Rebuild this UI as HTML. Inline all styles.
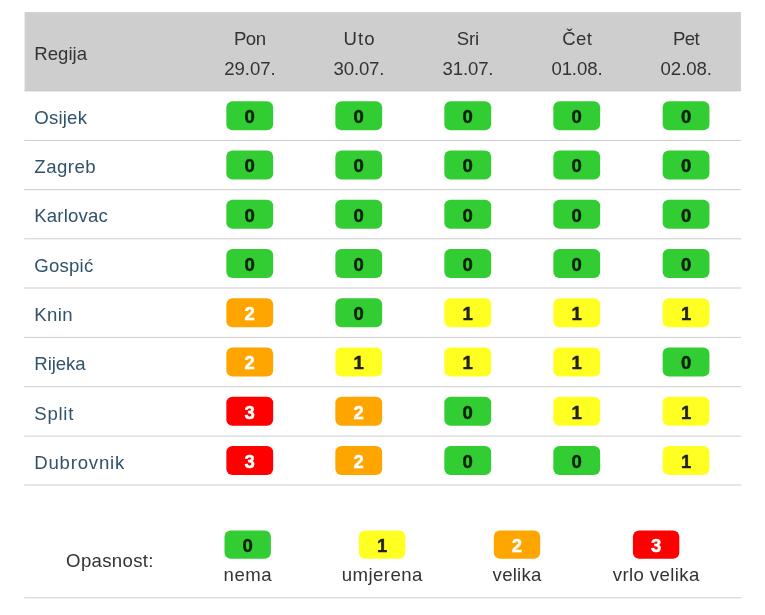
<!DOCTYPE html>
<html lang="hr"><head><meta charset="utf-8"><title>Opasnost</title>
<style>
html,body{margin:0;padding:0;background:#fff;}
body{position:relative;width:765px;height:615px;overflow:hidden;font-family:"Liberation Sans",sans-serif;}
svg{position:absolute;left:0;top:0;}
.t{position:absolute;white-space:nowrap;line-height:24px;height:24px;font-size:18.6px;}
.h{color:#333;}
.r{color:#30526a;}
.g{color:#333;}
.d{font-weight:bold;font-size:18.5px;-webkit-text-stroke:0.45px currentColor;}
.d0{color:#0a1f0a;}
.d1{color:#222;}
.d2,.d3{color:#fff;}
</style></head><body>
<svg width="765" height="615" viewBox="0 0 765 615">
<rect x="24.6" y="12.1" width="716.3" height="79.1" fill="#cecece"/>
<rect x="24.6" y="90.0" width="716.3" height="1.2" fill="#c9c9c9"/>
<rect x="226.35" y="101.15" width="46.8" height="29.2" rx="6.2" fill="#32cd32"/>
<rect x="335.35" y="101.15" width="46.8" height="29.2" rx="6.2" fill="#32cd32"/>
<rect x="444.35" y="101.15" width="46.8" height="29.2" rx="6.2" fill="#32cd32"/>
<rect x="553.35" y="101.15" width="46.8" height="29.2" rx="6.2" fill="#32cd32"/>
<rect x="662.65" y="101.15" width="46.8" height="29.2" rx="6.2" fill="#32cd32"/>
<rect x="24.2" y="139.90" width="716.9" height="1.0" fill="#cdcdcd"/>
<rect x="226.35" y="150.40" width="46.8" height="29.2" rx="6.2" fill="#32cd32"/>
<rect x="335.35" y="150.40" width="46.8" height="29.2" rx="6.2" fill="#32cd32"/>
<rect x="444.35" y="150.40" width="46.8" height="29.2" rx="6.2" fill="#32cd32"/>
<rect x="553.35" y="150.40" width="46.8" height="29.2" rx="6.2" fill="#32cd32"/>
<rect x="662.65" y="150.40" width="46.8" height="29.2" rx="6.2" fill="#32cd32"/>
<rect x="24.2" y="189.10" width="716.9" height="1.0" fill="#cdcdcd"/>
<rect x="226.35" y="199.65" width="46.8" height="29.2" rx="6.2" fill="#32cd32"/>
<rect x="335.35" y="199.65" width="46.8" height="29.2" rx="6.2" fill="#32cd32"/>
<rect x="444.35" y="199.65" width="46.8" height="29.2" rx="6.2" fill="#32cd32"/>
<rect x="553.35" y="199.65" width="46.8" height="29.2" rx="6.2" fill="#32cd32"/>
<rect x="662.65" y="199.65" width="46.8" height="29.2" rx="6.2" fill="#32cd32"/>
<rect x="24.2" y="238.30" width="716.9" height="1.0" fill="#cdcdcd"/>
<rect x="226.35" y="248.90" width="46.8" height="29.2" rx="6.2" fill="#32cd32"/>
<rect x="335.35" y="248.90" width="46.8" height="29.2" rx="6.2" fill="#32cd32"/>
<rect x="444.35" y="248.90" width="46.8" height="29.2" rx="6.2" fill="#32cd32"/>
<rect x="553.35" y="248.90" width="46.8" height="29.2" rx="6.2" fill="#32cd32"/>
<rect x="662.65" y="248.90" width="46.8" height="29.2" rx="6.2" fill="#32cd32"/>
<rect x="24.2" y="287.50" width="716.9" height="1.0" fill="#cdcdcd"/>
<rect x="226.35" y="298.15" width="46.8" height="29.2" rx="6.2" fill="#ffa500"/>
<rect x="335.35" y="298.15" width="46.8" height="29.2" rx="6.2" fill="#32cd32"/>
<rect x="444.35" y="298.15" width="46.8" height="29.2" rx="6.2" fill="#ffff22"/>
<rect x="553.35" y="298.15" width="46.8" height="29.2" rx="6.2" fill="#ffff22"/>
<rect x="662.65" y="298.15" width="46.8" height="29.2" rx="6.2" fill="#ffff22"/>
<rect x="24.2" y="336.90" width="716.9" height="1.0" fill="#cdcdcd"/>
<rect x="226.35" y="347.40" width="46.8" height="29.2" rx="6.2" fill="#ffa500"/>
<rect x="335.35" y="347.40" width="46.8" height="29.2" rx="6.2" fill="#ffff22"/>
<rect x="444.35" y="347.40" width="46.8" height="29.2" rx="6.2" fill="#ffff22"/>
<rect x="553.35" y="347.40" width="46.8" height="29.2" rx="6.2" fill="#ffff22"/>
<rect x="662.65" y="347.40" width="46.8" height="29.2" rx="6.2" fill="#32cd32"/>
<rect x="24.2" y="386.20" width="716.9" height="1.0" fill="#cdcdcd"/>
<rect x="226.35" y="396.65" width="46.8" height="29.2" rx="6.2" fill="#ff0000"/>
<rect x="335.35" y="396.65" width="46.8" height="29.2" rx="6.2" fill="#ffa500"/>
<rect x="444.35" y="396.65" width="46.8" height="29.2" rx="6.2" fill="#32cd32"/>
<rect x="553.35" y="396.65" width="46.8" height="29.2" rx="6.2" fill="#ffff22"/>
<rect x="662.65" y="396.65" width="46.8" height="29.2" rx="6.2" fill="#ffff22"/>
<rect x="24.2" y="435.60" width="716.9" height="1.0" fill="#cdcdcd"/>
<rect x="226.35" y="445.90" width="46.8" height="29.2" rx="6.2" fill="#ff0000"/>
<rect x="335.35" y="445.90" width="46.8" height="29.2" rx="6.2" fill="#ffa500"/>
<rect x="444.35" y="445.90" width="46.8" height="29.2" rx="6.2" fill="#32cd32"/>
<rect x="553.35" y="445.90" width="46.8" height="29.2" rx="6.2" fill="#32cd32"/>
<rect x="662.65" y="445.90" width="46.8" height="29.2" rx="6.2" fill="#ffff22"/>
<rect x="24.2" y="484.50" width="716.9" height="1.0" fill="#cdcdcd"/>
<rect x="224.50" y="530.50" width="46.4" height="28.2" rx="6.2" fill="#32cd32"/>
<rect x="358.90" y="530.50" width="46.4" height="28.2" rx="6.2" fill="#ffff22"/>
<rect x="493.80" y="530.50" width="46.4" height="28.2" rx="6.2" fill="#ffa500"/>
<rect x="632.90" y="530.50" width="46.4" height="28.2" rx="6.2" fill="#ff0000"/>
<rect x="24.2" y="597.30" width="716.9" height="1.0" fill="#cdcdcd"/>
</svg>
<span class="t h" style="left:34.30px;top:41.56px;letter-spacing:0.015px;">Regija</span>
<span class="t h" style="left:233.90px;top:26.56px;letter-spacing:-0.454px;">Pon</span>
<span class="t h" style="left:224.30px;top:56.56px;letter-spacing:-0.062px;">29.07.</span>
<span class="t h" style="left:343.54px;top:26.56px;letter-spacing:1.000px;">Uto</span>
<span class="t h" style="left:333.60px;top:56.56px;letter-spacing:-0.182px;">30.07.</span>
<span class="t h" style="left:456.80px;top:26.56px;letter-spacing:-0.146px;">Sri</span>
<span class="t h" style="left:442.45px;top:56.56px;letter-spacing:-0.122px;">31.07.</span>
<span class="t h" style="left:562.20px;top:26.56px;letter-spacing:0.338px;">Čet</span>
<span class="t h" style="left:551.40px;top:56.56px;letter-spacing:-0.102px;">01.08.</span>
<span class="t h" style="left:672.95px;top:26.56px;letter-spacing:-0.600px;">Pet</span>
<span class="t h" style="left:660.60px;top:56.56px;letter-spacing:-0.062px;">02.08.</span>
<span class="t r" style="left:34.30px;top:105.56px;letter-spacing:0.200px;">Osijek</span>
<span class="t d d0" style="left:244.62px;top:104.59px;">0</span>
<span class="t d d0" style="left:353.62px;top:104.59px;">0</span>
<span class="t d d0" style="left:462.62px;top:104.59px;">0</span>
<span class="t d d0" style="left:571.62px;top:104.59px;">0</span>
<span class="t d d0" style="left:680.92px;top:104.59px;">0</span>
<span class="t r" style="left:34.30px;top:154.56px;letter-spacing:0.488px;">Zagreb</span>
<span class="t d d0" style="left:244.62px;top:153.59px;">0</span>
<span class="t d d0" style="left:353.62px;top:153.59px;">0</span>
<span class="t d d0" style="left:462.62px;top:153.59px;">0</span>
<span class="t d d0" style="left:571.62px;top:153.59px;">0</span>
<span class="t d d0" style="left:680.92px;top:153.59px;">0</span>
<span class="t r" style="left:34.30px;top:203.56px;letter-spacing:0.149px;">Karlovac</span>
<span class="t d d0" style="left:244.62px;top:203.59px;">0</span>
<span class="t d d0" style="left:353.62px;top:203.59px;">0</span>
<span class="t d d0" style="left:462.62px;top:203.59px;">0</span>
<span class="t d d0" style="left:571.62px;top:203.59px;">0</span>
<span class="t d d0" style="left:680.92px;top:203.59px;">0</span>
<span class="t r" style="left:34.30px;top:253.56px;letter-spacing:0.211px;">Gospić</span>
<span class="t d d0" style="left:244.62px;top:252.59px;">0</span>
<span class="t d d0" style="left:353.62px;top:252.59px;">0</span>
<span class="t d d0" style="left:462.62px;top:252.59px;">0</span>
<span class="t d d0" style="left:571.62px;top:252.59px;">0</span>
<span class="t d d0" style="left:680.92px;top:252.59px;">0</span>
<span class="t r" style="left:34.30px;top:302.56px;letter-spacing:0.400px;">Knin</span>
<span class="t d d2" style="left:244.62px;top:301.59px;">2</span>
<span class="t d d0" style="left:353.62px;top:301.59px;">0</span>
<span class="t d d1" style="left:462.62px;top:301.59px;">1</span>
<span class="t d d1" style="left:571.62px;top:301.59px;">1</span>
<span class="t d d1" style="left:680.92px;top:301.59px;">1</span>
<span class="t r" style="left:34.30px;top:351.56px;letter-spacing:-0.080px;">Rijeka</span>
<span class="t d d2" style="left:244.62px;top:350.59px;">2</span>
<span class="t d d1" style="left:353.62px;top:350.59px;">1</span>
<span class="t d d1" style="left:462.62px;top:350.59px;">1</span>
<span class="t d d1" style="left:571.62px;top:350.59px;">1</span>
<span class="t d d0" style="left:680.92px;top:350.59px;">0</span>
<span class="t r" style="left:34.30px;top:401.56px;letter-spacing:0.706px;">Split</span>
<span class="t d d3" style="left:244.62px;top:400.59px;">3</span>
<span class="t d d2" style="left:353.62px;top:400.59px;">2</span>
<span class="t d d0" style="left:462.62px;top:400.59px;">0</span>
<span class="t d d1" style="left:571.62px;top:400.59px;">1</span>
<span class="t d d1" style="left:680.92px;top:400.59px;">1</span>
<span class="t r" style="left:34.30px;top:450.56px;letter-spacing:0.776px;">Dubrovnik</span>
<span class="t d d3" style="left:244.62px;top:449.59px;">3</span>
<span class="t d d2" style="left:353.62px;top:449.59px;">2</span>
<span class="t d d0" style="left:462.62px;top:449.59px;">0</span>
<span class="t d d0" style="left:571.62px;top:449.59px;">0</span>
<span class="t d d1" style="left:680.92px;top:449.59px;">1</span>
<span class="t g" style="left:66.10px;top:548.56px;letter-spacing:0.323px;">Opasnost:</span>
<span class="t d d0" style="left:242.57px;top:533.59px;">0</span>
<span class="t g" style="left:223.60px;top:562.56px;letter-spacing:0.536px;">nema</span>
<span class="t d d1" style="left:376.97px;top:533.59px;">1</span>
<span class="t g" style="left:341.70px;top:562.56px;letter-spacing:0.449px;">umjerena</span>
<span class="t d d2" style="left:511.87px;top:533.59px;">2</span>
<span class="t g" style="left:492.60px;top:562.56px;letter-spacing:0.237px;">velika</span>
<span class="t d d3" style="left:650.97px;top:533.59px;">3</span>
<span class="t g" style="left:612.75px;top:562.56px;letter-spacing:0.393px;">vrlo velika</span>
</body></html>
